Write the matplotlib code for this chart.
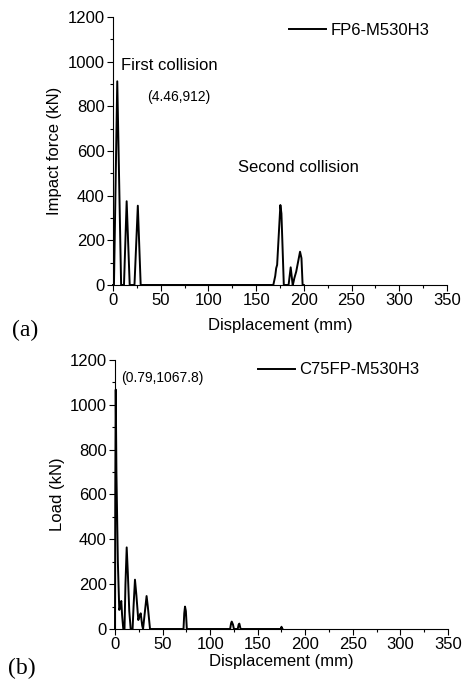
import numpy as np
import matplotlib
matplotlib.use('Agg')
from matplotlib import pyplot as plt
from matplotlib.ticker import MultipleLocator

plt.rcParams['font.family'] = ['Liberation Sans', 'DejaVu Sans']

tickSize = 12
labelSize = 12
noteSize = 10

# (a) impact force vs displacement
dispA = [0, 1.0, 4.46, 8.5, 11.5, 14.3, 17.5, 22.5, 26.0, 29.0, 168, 170, 171, 172, 175.4,
         176.5, 179, 184, 186.2, 188.3, 189, 190, 192, 196, 197.5, 198.7, 200]
forceA = [0, 0, 912, 0, 0, 375, 0, 0, 355, 0, 0, 40, 75, 90, 358,
          320, 0, 0, 79, 0, 10, 30, 60, 149, 120, 0, 0]

# (b) load vs displacement
dispB = [0, 0.3, 0.79, 1.5, 3.0, 4.5, 5.5, 6.6, 7.5, 8.7, 10, 11, 12.3, 13.5, 15, 16.5,
         18.5, 19.5, 21, 22.5, 24.5, 26, 27, 28.6, 29.5, 30.5, 33.2, 34.5, 36.8,
         72, 72.8, 73.6, 74.5, 75.5, 121, 122, 122.7, 124, 125, 129, 130, 130.7, 132,
         174.5, 175, 175.5, 176]
loadB = [0, 600, 1067.8, 700, 300, 85, 100, 125, 60, 0, 0, 200, 364, 250, 80, 0,
         0, 100, 220, 150, 40, 60, 70, 15, 0, 40, 147, 100, 0,
         0, 70, 100, 80, 0, 0, 25, 33, 20, 0, 0, 20, 24, 0,
         0, 10, 0, 0]

fig = plt.figure(figsize=(4.62, 6.8), dpi=100)
axA = fig.add_axes([0.2446, 0.5809, 0.7229, 0.3941])
axB = fig.add_axes([0.2489, 0.0750, 0.7208, 0.3956])


def style(ax, legpos):
    ax.set_xlim(0, 350)
    ax.set_ylim(0, 1200)
    ax.spines['top'].set_visible(False)
    ax.spines['right'].set_visible(False)
    ax.xaxis.set_major_locator(MultipleLocator(50))
    ax.xaxis.set_minor_locator(MultipleLocator(25))
    ax.yaxis.set_major_locator(MultipleLocator(200))
    ax.yaxis.set_minor_locator(MultipleLocator(100))
    ax.tick_params(which='major', direction='out', length=4, width=0.8, labelsize=tickSize, pad=2)
    ax.tick_params(which='minor', direction='out', length=2, width=0.8)
    ax.legend(loc='center left', frameon=False, fontsize=labelSize, handlelength=2.2,
              handletextpad=0.3, borderpad=0, borderaxespad=0, bbox_to_anchor=legpos)


axA.plot(dispA, forceA, color='k', lw=1.4, label='FP6-M530H3', clip_on=False, zorder=3)
style(axA, (0.527, 0.951))
axA.set_xlabel('Displacement (mm)', fontsize=labelSize, labelpad=7)
axA.set_ylabel('Impact force (kN)', fontsize=labelSize, labelpad=4)
axA.text(8.4, 981, 'First collision', fontsize=labelSize, va='center')
axA.text(35.6, 842, '(4.46,912)', fontsize=noteSize, va='center')
axA.text(131, 524, 'Second collision', fontsize=labelSize, va='center')

axB.plot(dispB, loadB, color='k', lw=1.4, label='C75FP-M530H3', clip_on=False, zorder=3)
style(axB, (0.429, 0.963))
axB.set_xlabel('Displacement (mm)', fontsize=labelSize, labelpad=1)
axB.set_ylabel('Load (kN)', fontsize=labelSize, labelpad=3)
axB.text(6.3, 1120, '(0.79,1067.8)', fontsize=noteSize, va='center')

fig.text(0.026, 1 - 330 / 680, '(a)', fontsize=17, family='Liberation Serif', va='center')
fig.text(0.017, 1 - 668 / 680, '(b)', fontsize=17, family='Liberation Serif', va='center')

fig.savefig('out.png', dpi=100)
